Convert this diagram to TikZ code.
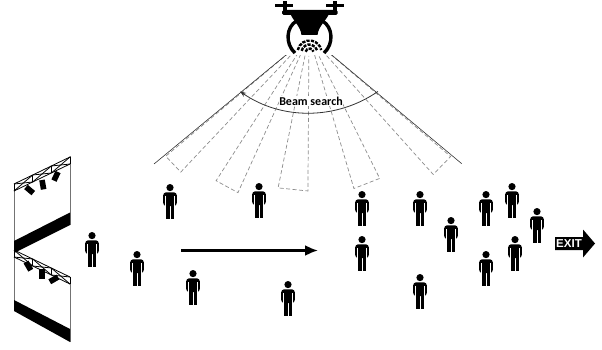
\documentclass[tikz,border=0pt]{standalone}
\usepackage{fontspec}
\setmainfont{Carlito}
\newfontfamily\signfont{Liberation Sans}
\usetikzlibrary{calc}
\usetikzlibrary{arrows.meta}

\tikzset{
	fan/.style={draw=black!80, line width=0.6pt},
	beam/.style={draw=black!45, line width=0.7pt, dash pattern=on 4pt off 2.5pt},
	wall/.style={draw=black!55, line width=0.8pt},
	trussline/.style={draw=black, line width=0.8pt},
	beamlabel/.style={font=\bfseries\fontsize{12}{14}\selectfont, fill=white, inner sep=0.5pt},
	exitsign/.style={text=white, font=\signfont\bfseries\fontsize{11.5}{13}\selectfont, inner sep=0pt},
}

\newcommand{\person}[2] % x, y of the top of the head
{
	\begin{scope}[shift={(#1,#2)}]
		% head
		\fill (0,3.6) circle (3.6);
		% shoulders and arms
		\fill[rounded corners=3] (-6.8,22) -- (-6.8,8.3) -- (6.8,8.3) -- (6.8,22) -- cycle;
		\draw[white, line width=0.7pt] (-4.6,12) -- (-4.6,22.5) (4.6,12) -- (4.6,22.5);
		% legs
		\fill (-4.2,21) rectangle (-0.5,35);
		\fill (0.5,21) rectangle (4.2,35);
	\end{scope}
}

\newcommand{\truss}[4] % left x, left y, right x, right y of the upper chord
{
	\draw[trussline] (#1,#2) -- (#3,#4);
	\draw[trussline] (#1,#2+7) -- (#3,#4+7);
	\foreach \i in {0,1,2,3}
		\draw[trussline] ($(#1,#2)!\i/3!(#3,#4)$) -- ++(0,7);
	\foreach \i [evaluate=\i as \j using \i+1] in {0,1,2}
	{
		\draw[trussline] ($(#1,#2)!\i/3!(#3,#4)$) -- ($(#1,#2+7)!\j/3!(#3,#4+7)$);
		\draw[trussline] ($(#1,#2+7)!\i/3!(#3,#4+7)$) -- ($(#1,#2)!\j/3!(#3,#4)$);
	}
}

\newcommand{\lamp}[3] % x, y of the hook, tilt
{
	\fill[rotate around={#3:(#1,#2)}] (#1-2.8,#2) rectangle (#1+2.8,#2+9.5);
}

\begin{document}
\begin{tikzpicture}[x=1pt, y=-1pt]
	\useasboundingbox (0,0) rectangle (602,350);

	\coordinate (apex) at (309,36);
	% search beams
	\foreach \a/\b/\r in {140/133.3/187, 122.7/114.4/172, 101.5/90.4/155, 73.6/63.6/159, 48.1/40.4/186}
		\draw[beam] ($(apex)+(\a:20)$) -- ($(apex)+(\a:\r)$) -- ($(apex)+(\b:\r)$) -- ($(apex)+(\b:20)$);
	% field of view
	\draw[fan] ($(apex)+(140.45:20)$) -- ($(apex)+(140.45:201)$);
	\draw[fan] ($(apex)+(39.9:20)$) -- ($(apex)+(39.9:199)$);

	% sweep direction
	\node[beamlabel] (search) at (311,101) {Beam search};
	\coordinate (sweep) at (309,-8);
	\draw[fan, line width=0.8pt, -{Stealth[length=6pt, width=4.5pt]}] ($(sweep)+(55.3:121)$) arc[start angle=55.3, end angle=124.7, radius=121];

	% drone
	\fill[white] (284,34) rectangle (335,55);
	\fill (275,4.5) rectangle (293,7.5);
	\fill (326,4.5) rectangle (344,7.5);
	\fill (283,1) rectangle (286.5,12);
	\fill (333,1) rectangle (336.5,12);
	\fill[rounded corners=1.5] (282,10) rectangle (337.5,15);
	\fill (290,13) -- (329.5,13) .. controls (326,21) and (318.5,26) .. (317.5,35) -- (301.5,35) .. controls (300.5,26) and (293,21) .. cycle;
	\draw[line width=3.4pt] (296.5,21) .. controls (286,27) and (285,44) .. (295,53);
	\draw[line width=3.4pt] (322.5,21) .. controls (333,27) and (334,44) .. (324,53);
	\coordinate (sensor) at (309.5,52.5);
	\foreach \r in {4,8,12}
		\draw[line width=2.4pt, dash pattern=on 3.2pt off 1.2pt] ($(sensor)+(192:\r)$) arc[start angle=192, end angle=348, radius=\r];

	% stage walls with lighting trusses
	\draw[wall] (14,185) -- (14,253) (70,156) -- (70,225);
	\fill (14,241) -- (70,212.5) -- (70,225) -- (14,253) -- cycle;
	\truss{14}{184}{70}{157}
	\lamp{26}{187}{50}
	\lamp{42}{180}{10}
	\lamp{58}{172}{-25}

	\draw[wall] (14,250) -- (14,311) (70,277) -- (70,342);
	\fill (14,300) -- (70,329) -- (70,342) -- (14,311) -- cycle;
	\truss{14}{250}{70}{277}
	\lamp{26}{262}{30}
	\lamp{42}{269}{0}
	\lamp{58}{277}{-60}

	% crowd
	\foreach \px/\py in {170/184, 259/183, 92/232, 137/251, 193/270, 288/281, 362/191, 362/236, 420/191, 420/274, 451/217, 486/191, 486/251, 512/183, 515/236, 537/208}
	{
		\person{\px}{\py}
	}

	% walking direction
	\coordinate (walkstart) at (181,250.5);
	\coordinate (walkend) at (318,250.5);
	\draw[line width=2.2pt, -{Latex[length=13pt, width=11pt]}] (walkstart) -- (walkend);

	% exit sign
	\fill (555,237) -- (583,237) -- (583,229.5) -- (595,243.5) -- (583,257.5) -- (583,250) -- (555,250) -- cycle;
	\node[exitsign] (exit) at (569,243.5) {EXIT};
\end{tikzpicture}
\end{document}
